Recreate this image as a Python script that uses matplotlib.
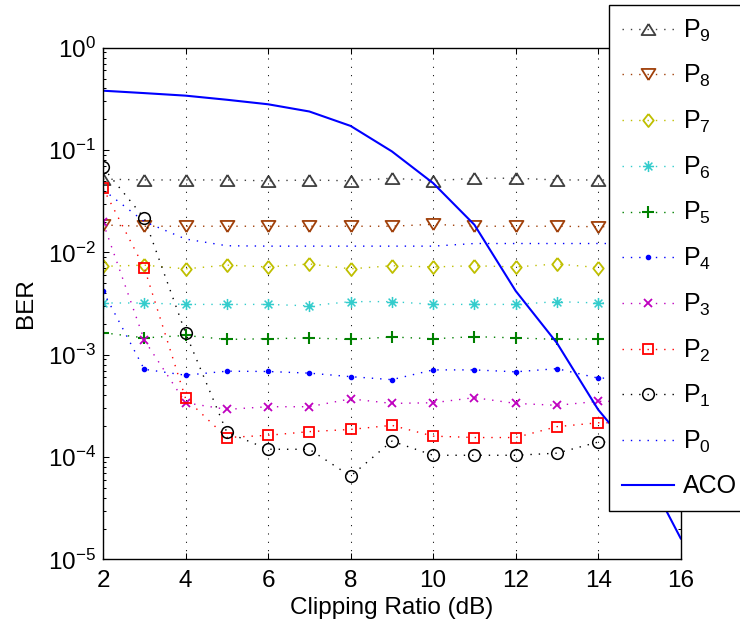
import matplotlib
matplotlib.use('Agg')
import matplotlib.pyplot as plt
from matplotlib.path import Path

plt.rcParams['font.family'] = ['Liberation Sans', 'DejaVu Sans']
plt.rcParams['mathtext.fontset'] = 'custom'
plt.rcParams['mathtext.rm'] = 'Liberation Sans'
plt.rcParams['mathtext.it'] = 'Liberation Sans:italic'
plt.rcParams['mathtext.bf'] = 'Liberation Sans:bold'

# clipping ratio (dB)
cr = [2, 3, 4, 5, 6, 7, 8, 9, 10, 11, 12, 13, 14, 15, 16]

p9 = [0.052, 0.051, 0.051, 0.051, 0.050, 0.051, 0.050, 0.053, 0.050, 0.053, 0.053, 0.051, 0.051, 0.051, 0.051]
p8 = [0.0185, 0.018, 0.018, 0.018, 0.018, 0.018, 0.018, 0.018, 0.0188, 0.018, 0.018, 0.018, 0.0178, 0.018, 0.018]
p7 = [0.0073, 0.0075, 0.0069, 0.0075, 0.0072, 0.0077, 0.0069, 0.0074, 0.0072, 0.0074, 0.0072, 0.0077, 0.0071, 0.0072, 0.0072]
p6 = [0.0032, 0.0032, 0.0031, 0.0031, 0.0031, 0.0030, 0.0033, 0.0033, 0.0031, 0.0031, 0.0031, 0.0033, 0.0032, 0.0032, 0.0032]
p5 = [0.00164, 0.00146, 0.00154, 0.00141, 0.00143, 0.00146, 0.00141, 0.00149, 0.00143, 0.00150, 0.00146, 0.00141, 0.00143, 0.00143, 0.00143]
p4 = [0.00417, 7.2e-4, 6.3e-4, 6.9e-4, 6.85e-4, 6.6e-4, 6.1e-4, 5.7e-4, 7.1e-4, 7.1e-4, 6.8e-4, 7.3e-4, 5.9e-4, 5.9e-4, 5.9e-4]
p3 = [0.0196, 0.00139, 3.39e-4, 2.92e-4, 3.1e-4, 3.1e-4, 3.7e-4, 3.34e-4, 3.39e-4, 3.8e-4, 3.34e-4, 3.2e-4, 3.5e-4, 3.5e-4, 3.5e-4]
p2 = [0.0425, 0.00705, 3.74e-4, 1.55e-4, 1.63e-4, 1.77e-4, 1.86e-4, 2.04e-4, 1.6e-4, 1.55e-4, 1.55e-4, 1.98e-4, 2.16e-4, 2.16e-4, 2.16e-4]
p1 = [0.0675, 0.0216, 0.00163, 1.75e-4, 1.19e-4, 1.19e-4, 6.5e-5, 1.43e-4, 1.04e-4, 1.04e-4, 1.04e-4, 1.09e-4, 1.4e-4, 1.4e-4, 1.4e-4]
p0 = [0.041, 0.020, 0.0135, 0.0116, 0.0115, 0.0115, 0.0115, 0.0115, 0.0115, 0.0122, 0.0122, 0.0122, 0.0122, 0.0122, 0.0122]
aco = [0.38, 0.36, 0.34, 0.31, 0.28, 0.238, 0.172, 0.097, 0.0475, 0.0186, 0.0042, 0.0013, 2.9e-4, 9.5e-5, 1.6e-5]

# matlab-like markers
tri_up = [(0, 0.8), (-1, -0.8), (1, -0.8), (0, 0.8)]
tri_dn = [(0, -0.8), (-1, 0.8), (1, 0.8), (0, -0.8)]
diam = [(0, 1), (0.8, 0), (0, -1), (-0.8, 0), (0, 1)]
star = Path([(-1, 0), (1, 0), (0, -1), (0, 1), (-0.7, -0.7), (0.7, 0.7), (-0.7, 0.7), (0.7, -0.7)],
            [Path.MOVETO, Path.LINETO] * 4)

dots = (0, (1, 5))
fig = plt.figure(figsize=(7.4, 6.26), dpi=100)
ax = fig.add_axes([0.1392, 0.1065, 0.7807, 0.8173])

ax.plot(cr, p9, color='#404040', ls=dots, lw=1, marker=tri_up, ms=10, mfc='none', mew=1.3, label=r'P$_9$')
ax.plot(cr, p8, color='#a0400a', ls=dots, lw=1, marker=tri_dn, ms=10, mfc='none', mew=1.3, label=r'P$_8$')
ax.plot(cr, p7, color='#bfbf00', ls=dots, lw=1, marker=diam, ms=9.4, mfc='none', mew=1.3, label=r'P$_7$')
ax.plot(cr, p6, color='#33cccc', ls=dots, lw=1, marker=star, ms=8, mfc='none', mew=1.1, label=r'P$_6$')
ax.plot(cr, p5, color='#008000', ls=dots, lw=1, marker='+', ms=8.4, mew=1.5, label=r'P$_5$')
ax.plot(cr, p4, color='#0000ff', ls=dots, lw=1, marker='.', ms=6, label=r'P$_4$')
ax.plot(cr, p3, color='#bf00bf', ls=dots, lw=1, marker='x', ms=6, mew=1.3, label=r'P$_3$')
ax.plot(cr, p2, color='#ff0000', ls=dots, lw=1, marker='s', ms=6.8, mfc='none', mew=1.3, label=r'P$_2$')
ax.plot(cr, p1, color='black', ls=dots, lw=1, marker='o', ms=8.4, mfc='none', mew=1.1, label=r'P$_1$')
ax.plot(cr, p0, color='#0000ff', ls=dots, lw=1, label=r'P$_0$')
ax.plot(cr, aco, color='#0000ff', lw=1.5, label='ACO')

ax.set_yscale('log')
ax.set_xlim(2, 16)
ax.set_ylim(1e-5, 1)
ax.set_xticks(range(2, 17, 2))
ax.xaxis.grid(True, color='black', ls=(0, (1, 7)), lw=0.75)
ax.tick_params(which='both', direction='in', top=True, right=True, width=0.75, labelsize=17.5)
ax.tick_params(which='major', length=4.3)
ax.tick_params(which='minor', length=2.2)
ax.tick_params(axis='x', pad=8)
ax.tick_params(axis='y', pad=5)
for s in ax.spines.values():
    s.set_linewidth(1.0)
ax.set_xlabel('Clipping Ratio (dB)', fontsize=17.5, labelpad=3)
ax.set_ylabel('BER', fontsize=17.5, labelpad=8)

leg = ax.legend(loc='upper left', bbox_to_anchor=(609 / 740, 1 - 5 / 626), bbox_transform=fig.transFigure,
                borderaxespad=0, fontsize=18, numpoints=1, handlelength=2.1, handletextpad=0.35,
                labelspacing=0.78, borderpad=0.5, fancybox=False, framealpha=1, edgecolor='black')
leg.get_frame().set_linewidth(1.0)

fig.savefig('out.png', dpi=100)
